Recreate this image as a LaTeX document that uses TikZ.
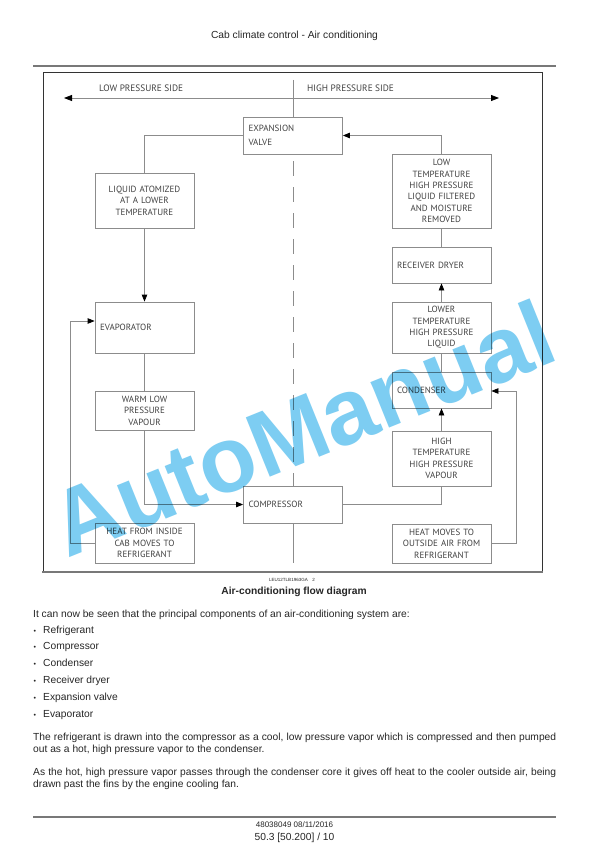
\documentclass[tikz,border=0pt]{standalone}
\usepackage{fontspec}
\setmainfont{Liberation Sans}
\newfontfamily\diafont{PT Sans}
\usetikzlibrary{arrows.meta, positioning}
\definecolor{linegray}{RGB}{140,140,140}
\definecolor{txtgray}{RGB}{65,65,65}
\definecolor{rulegray}{RGB}{120,120,120}
\definecolor{wmblue}{RGB}{125,205,242}

\begin{document}
\begin{tikzpicture}[x=1pt, y=-1pt,
  box/.style={draw=linegray, line width=0.8pt, minimum width=99pt, inner xsep=5pt, inner ysep=0pt,
    text width=89pt, align=center, text=txtgray, font=\diafont\fontsize{9}{11.4}\selectfont},
  lbox/.style={box, align=left},
  side/.style={inner sep=0pt, anchor=west, text=txtgray, font=\diafont\fontsize{9.3}{11}\selectfont},
  flow/.style={draw=linegray, line width=0.8pt},
  flowarrow/.style={-{Triangle[length=7pt, width=5.5pt, color=black]}},
  body/.style={inner sep=0pt, anchor=base west, text=black!85, font=\fontsize{10.25}{12.3}\selectfont}]
\useasboundingbox[fill=white] (0,0) rectangle (612,864);

% header
\node[body, anchor=base] (head) at (294.5,38.5) {Cab climate control - Air conditioning};
\draw[rulegray, line width=2pt] (33,66) -- (556,66);

% frame
\draw[black!80, line width=0.7pt] (43,572) -- (43,72) -- (542,72) -- (542,572);
\draw[rulegray, line width=2pt] (42,572) -- (543,572);

% pressure sides
\coordinate (lowend) at (64,98);
\coordinate (highend) at (499,98);
\draw[flow, {Triangle[length=8pt, width=6pt, color=black]}-{Triangle[length=8pt, width=6pt, color=black]}] (lowend) -- (highend);
\node[side] (low) at (99,88) {LOW PRESSURE SIDE};
\node[side] (high) at (307,88) {HIGH PRESSURE SIDE};

% boxes, low pressure side
\node[lbox, minimum height=37pt] (expv) at (293,135.5) {EXPANSION\\[2pt]VALVE};
\node[box, minimum height=55pt] (liq) at (144.5,200.5) {LIQUID ATOMIZED\\AT A LOWER\\TEMPERATURE};
\node[lbox, minimum height=51pt] (evap) at (144.5,327.5) {EVAPORATOR};
\node[box, minimum height=39pt] (warm) at (144.5,410.5) {WARM LOW\\PRESSURE\\VAPOUR};
\node[box, minimum height=40pt] (heatin) at (144.5,543) {HEAT FROM INSIDE\\CAB MOVES TO\\REFRIGERANT};
\node[lbox, minimum height=37pt] (comp) at (293,504.5) {COMPRESSOR};

% boxes, high pressure side
\node[box, minimum height=74pt] (filt) at (441.5,191) {LOW\\TEMPERATURE\\HIGH PRESSURE\\LIQUID FILTERED\\AND MOISTURE\\REMOVED};
\node[lbox, minimum height=36pt] (recv) at (441.5,265) {RECEIVER DRYER};
\node[box, minimum height=51pt] (lower) at (441.5,327.5) {LOWER\\TEMPERATURE\\HIGH PRESSURE\\LIQUID};
\node[lbox, minimum height=36pt] (cond) at (441.5,390) {CONDENSER};
\node[box, minimum height=55pt] (hot) at (441.5,458.5) {HIGH\\TEMPERATURE\\HIGH PRESSURE\\VAPOUR};
\node[box, minimum height=39pt] (heatout) at (441.5,543.5) {HEAT MOVES TO\\OUTSIDE AIR FROM\\REFRIGERANT};

% dividing line
\draw[flow] (293,80) -- (expv.north);
\draw[flow, dash pattern=on 15pt off 11pt] ([yshift=-7pt]expv.south) -- (comp.north);
\draw[flow] (comp.south) -- (293,563);

% refrigerant circuit
\draw[flow] (expv.west) -| (liq.north);
\draw[flow, flowarrow] (liq.south) -- (evap.north);
\draw[flow, flowarrow] (heatin.west) -- ++(-24,0) |- ([yshift=6.5pt]evap.west);
\draw[flow] (evap.south) -- (warm.north);
\draw[flow, flowarrow] (warm.south) |- (comp.west);
\draw[flow] (comp.east) -| (hot.south);
\draw[flow, flowarrow] (hot.north) -- (cond.south);
\draw[flow] (cond.north) -- (lower.south);
\draw[flow, flowarrow] (lower.north) -- (recv.south);
\draw[flow] (recv.north) -- (filt.south);
\draw[flow, flowarrow] (filt.north) |- (expv.east);
\draw[flow, flowarrow] (heatout.east) -- ++(25,0) |- ([yshift=-1pt]cond.east);

% caption
\node[body, anchor=base, font=\fontsize{4.5}{5}\selectfont] (ref) at (292,581) {LEU12TLB1963GA\quad 2};
\node[body, anchor=base, font=\bfseries\fontsize{10.25}{12}\selectfont] (cap) at (294,594) {Air-conditioning flow diagram};

% text
\node[body] (intro) at (33,617) {It can now be seen that the principal components of an air-conditioning system are:};
\foreach \item [count=\i from 0] in {Refrigerant, Compressor, Condenser, Receiver dryer, Expansion valve, Evaporator}{
  \node[body, font=\fontsize{7}{8}\selectfont] at (33.5,633+16.8*\i) {•};
  \node[body] at (43,633+16.8*\i) {\item};
}
\node[body] (par1) at (33,740.5) {\hbox to 523pt{The refrigerant is drawn into the compressor as a cool, low pressure vapor which is compressed and then pumped}};
\node[body] (par1b) at (33,752.5) {out as a hot, high pressure vapor to the condenser.};
\node[body] (par2) at (33,775) {\hbox to 523pt{As the hot, high pressure vapor passes through the condenser core it gives off heat to the cooler outside air, being}};
\node[body] (par2b) at (33,787) {drawn past the fins by the engine cooling fan.};

% footer
\draw[rulegray, line width=1.5pt] (33,817) -- (556,817);
\node[body, anchor=base, font=\fontsize{8}{9}\selectfont] (date) at (294.5,827.5) {48038049 08/11/2016};
\node[body, anchor=base] (page) at (294.5,840) {50.3 [50.200] / 10};

% watermark
\begin{scope}[blend mode=multiply]
\node[inner sep=0pt, rotate=22, text=wmblue, font=\bfseries\fontsize{93}{93}\selectfont] (wm) at (302,428) {AutoManual};
\end{scope}
\end{tikzpicture}
\end{document}
